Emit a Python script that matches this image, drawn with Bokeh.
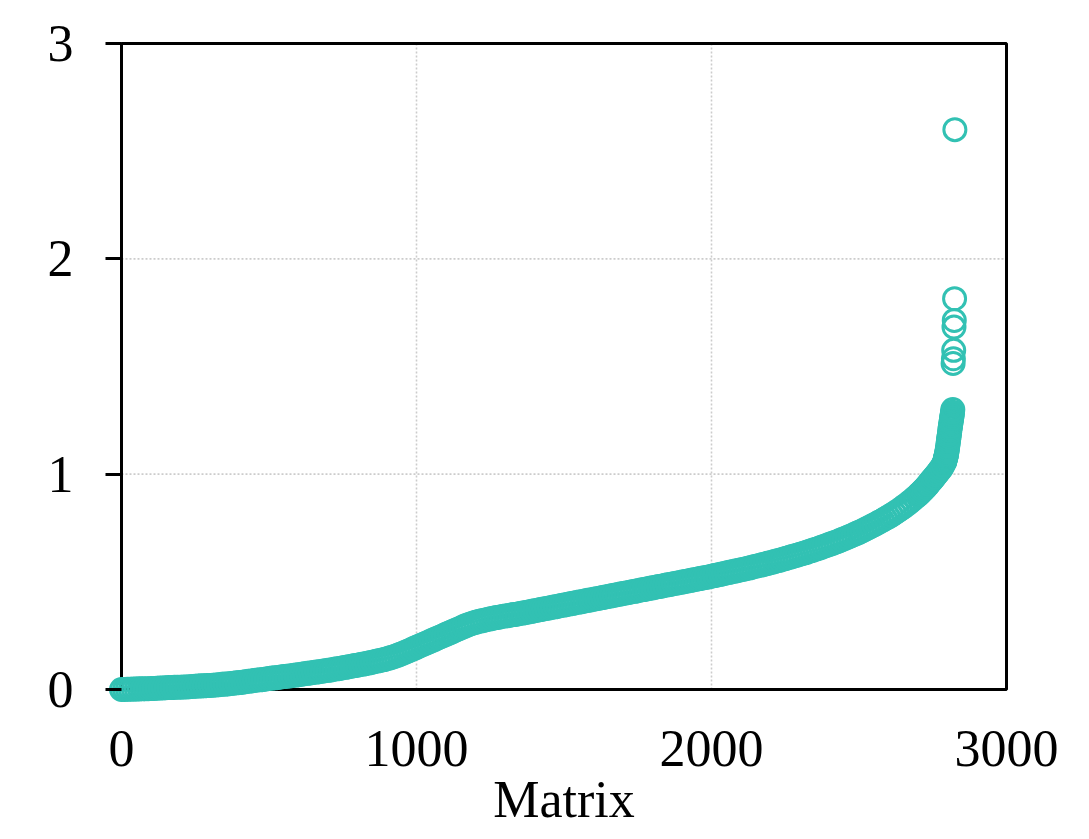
from bokeh.plotting import figure
from bokeh.models import Range1d, FixedTicker
from bokeh.embed import file_html
from bokeh.resources import INLINE

# ranked matrices (sorted); sampled every 10 up to 2690
ratio_main = [
    0.000, 0.000, 0.001, 0.001, 0.002, 0.002, 0.003, 0.003, 0.004, 0.004,
    0.005, 0.005, 0.006, 0.007, 0.007, 0.008, 0.009, 0.009, 0.010, 0.011,
    0.011, 0.012, 0.012, 0.013, 0.014, 0.015, 0.016, 0.017, 0.017, 0.018,
    0.019, 0.020, 0.021, 0.022, 0.024, 0.025, 0.026, 0.028, 0.029, 0.031,
    0.032, 0.034, 0.036, 0.038, 0.040, 0.042, 0.044, 0.045, 0.047, 0.049,
    0.051, 0.053, 0.054, 0.056, 0.058, 0.060, 0.062, 0.063, 0.065, 0.067,
    0.069, 0.071, 0.073, 0.075, 0.077, 0.079, 0.081, 0.083, 0.085, 0.087,
    0.089, 0.091, 0.094, 0.096, 0.098, 0.101, 0.103, 0.106, 0.108, 0.111,
    0.113, 0.116, 0.118, 0.121, 0.124, 0.127, 0.130, 0.133, 0.136, 0.139,
    0.143, 0.147, 0.151, 0.156, 0.161, 0.166, 0.172, 0.178, 0.184, 0.190,
    0.196, 0.202, 0.208, 0.214, 0.220, 0.226, 0.232, 0.238, 0.244, 0.250,
    0.256, 0.262, 0.268, 0.274, 0.280, 0.286, 0.292, 0.298, 0.303, 0.308,
    0.312, 0.316, 0.319, 0.322, 0.325, 0.328, 0.331, 0.334, 0.336, 0.339,
    0.341, 0.343, 0.346, 0.348, 0.350, 0.353, 0.355, 0.358, 0.360, 0.363,
    0.366, 0.368, 0.371, 0.374, 0.376, 0.379, 0.382, 0.384, 0.387, 0.390,
    0.392, 0.395, 0.398, 0.400, 0.403, 0.406, 0.408, 0.411, 0.414, 0.416,
    0.419, 0.422, 0.424, 0.427, 0.430, 0.432, 0.435, 0.438, 0.440, 0.443,
    0.446, 0.448, 0.451, 0.454, 0.456, 0.459, 0.462, 0.464, 0.467, 0.470,
    0.472, 0.475, 0.478, 0.480, 0.483, 0.486, 0.488, 0.491, 0.494, 0.496,
    0.499, 0.502, 0.504, 0.507, 0.510, 0.512, 0.515, 0.518, 0.520, 0.523,
    0.526, 0.529, 0.532, 0.535, 0.538, 0.541, 0.544, 0.547, 0.550, 0.553,
    0.556, 0.559, 0.562, 0.565, 0.569, 0.572, 0.575, 0.579, 0.582, 0.586,
    0.589, 0.593, 0.597, 0.600, 0.604, 0.608, 0.612, 0.616, 0.620, 0.624,
    0.628, 0.632, 0.636, 0.641, 0.645, 0.650, 0.654, 0.659, 0.664, 0.669,
    0.674, 0.679, 0.684, 0.689, 0.695, 0.700, 0.706, 0.712, 0.718, 0.724,
    0.730, 0.736, 0.743, 0.750, 0.757, 0.764, 0.771, 0.779, 0.786, 0.794,
    0.802, 0.810, 0.819, 0.828, 0.837, 0.847, 0.857, 0.868, 0.879, 0.891,
]
# steeper part, sampled every 5 from 2700 to 2790
ratio_steep = [0.903, 0.909, 0.916, 0.923, 0.930, 0.937, 0.945, 0.953, 0.962, 0.970,
               0.978, 0.986, 0.995, 1.003, 1.012, 1.021, 1.030, 1.042, 1.055]
# near-vertical tail and the outliers, one per matrix
tail_idx = [2791, 2792, 2793, 2794, 2795, 2796, 2797, 2798, 2799, 2800,
            2801, 2802, 2803, 2804, 2805, 2806, 2807, 2808, 2809, 2810,
            2811, 2812, 2813, 2814, 2815, 2816, 2817, 2818,
            2819, 2820, 2821, 2822, 2823, 2824, 2825]
tail_ratio = [1.061, 1.066, 1.072, 1.077, 1.083, 1.088, 1.095, 1.103, 1.112, 1.121,
              1.131, 1.142, 1.152, 1.163, 1.172, 1.183, 1.192, 1.203, 1.214, 1.222,
              1.233, 1.241, 1.252, 1.259, 1.268, 1.277, 1.288, 1.300,
              1.514, 1.536, 1.575, 1.683, 1.714, 1.815, 2.600]

x_ticks = [0, 1000, 2000, 3000]
y_ticks = [0, 1, 2, 3]
x_label = "Matrix"

main_idx = [10 * i for i in range(len(ratio_main))]
steep_idx = [2700 + 5 * i for i in range(len(ratio_steep))]
xs = main_idx + steep_idx + tail_idx
ys = ratio_main + ratio_steep + tail_ratio

FONT = "Liberation Serif"
TEAL = "#32C1B3"

X0, X1 = x_ticks[0], x_ticks[-1]
Y0, Y1 = y_ticks[0], y_ticks[-1]

# frame: box of 885 x 646 px with a 14 px pad left/right/bottom, 6 px on top
PX_X = 885 / (X1 - X0)
PX_Y = 646 / (Y1 - Y0)
PAD = 14
PAD_TOP = 6

p = figure(output_backend="svg", toolbar_location=None,
           frame_width=885 + 2 * PAD, frame_height=646 + PAD + PAD_TOP,
           min_border_left=121 - PAD, min_border_right=60,
           min_border_top=43 - PAD_TOP, min_border_bottom=130,
           x_range=Range1d(X0 - PAD / PX_X, X1 + PAD / PX_X),
           y_range=Range1d(Y0 - PAD / PX_Y, Y1 + PAD_TOP / PX_Y))
p.background_fill_color = "white"
p.border_fill_color = "white"
p.outline_line_color = None
p.xgrid.visible = False
p.ygrid.visible = False

# dotted grid inside the box
gx = x_ticks[1:-1]
gy = y_ticks[1:-1]
p.segment(x0=gx, y0=[Y0] * len(gx), x1=gx, y1=[Y1] * len(gx),
          line_color="#cccccc", line_width=1.6, line_dash="2 2")
p.segment(x0=[X0] * len(gy), y0=gy, x1=[X1] * len(gy), y1=gy,
          line_color="#cccccc", line_width=1.6, line_dash="2 2")

# box
p.quad(left=[X0], right=[X1], bottom=[Y0], top=[Y1],
       fill_color=None, line_color="black", line_width=3)

p.scatter(xs, ys, marker="circle", size=22, fill_color=None,
          line_color=TEAL, line_width=3)

p.xaxis.ticker = FixedTicker(ticks=x_ticks)
p.yaxis.ticker = FixedTicker(ticks=y_ticks)
p.xaxis.minor_tick_line_color = None
p.yaxis.minor_tick_line_color = None

for ax in (p.xaxis[0], p.yaxis[0]):
    ax.axis_line_color = None
    ax.major_tick_line_color = "black"
    ax.major_tick_line_width = 3
    ax.major_label_text_font = FONT
    ax.major_label_text_font_size = "52px"
    ax.major_label_text_color = "black"

p.xaxis.major_tick_line_color = None
p.xaxis.major_tick_out = 0
p.xaxis.major_tick_in = 0
p.xaxis.major_label_standoff = 27
p.yaxis.major_tick_out = 2
p.yaxis.major_tick_in = PAD
p.yaxis.major_label_standoff = 32

p.xaxis.axis_label = x_label
p.xaxis.axis_label_text_font = FONT
p.xaxis.axis_label_text_font_size = "52px"
p.xaxis.axis_label_text_font_style = "normal"
p.xaxis.axis_label_text_color = "black"
p.xaxis.axis_label_standoff = 2

open("out.html", "w").write(file_html(p, INLINE))
